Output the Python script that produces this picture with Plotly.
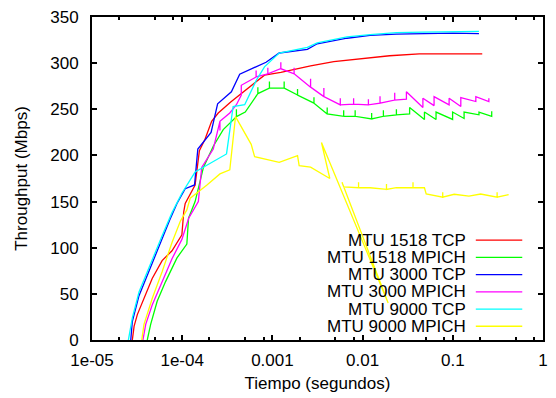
import plotly.graph_objects as go

# ---- data (time in seconds, throughput in Mbps) ----
t_1518_tcp = [2.8e-5, 2.93e-5, 3.18e-5, 3.77e-5, 4.65e-5, 5.99e-5, 7.71e-5, 9.92e-5, 1.04e-4, 1.08e-4,
              1.39e-4, 1.55e-4, 1.79e-4, 2.12e-4, 2.51e-4, 3.45e-4, 5.36e-4, 8.17e-4, 1.24e-3, 1.9e-3,
              2.65e-3, 4.79e-3, 9.32e-3, 1.99e-2, 4.25e-2, 9.06e-2, 0.212]
v_1518_tcp = [0, 15, 27.5, 45, 66.6, 86, 96.7, 114, 139, 148,
              168, 205, 217.5, 237, 246, 258, 272.5, 287, 290, 294,
              297, 301.7, 305, 308, 310, 310, 310]

t_1518_mpich = [4.1e-5, 4.47e-5, 5.28e-5, 6.52e-5, 8.75e-5, 1.126e-4, 1.176e-4, 1.39e-4, 1.72e-4, 2.21e-4,
                2.85e-4, 3.99e-4, 3.99e-4, 3.99e-4, 5.0e-4, 6.9e-4, 6.9e-4, 6.9e-4, 9.27e-4, 9.27e-4,
                9.27e-4, 1.35e-3, 1.35e-3, 1.35e-3, 1.9e-3, 1.9e-3, 1.9e-3, 2.89e-3, 2.89e-3, 2.89e-3,
                4.05e-3, 4.05e-3, 4.05e-3, 6.17e-3, 6.17e-3, 6.17e-3, 8.27e-3, 8.27e-3, 8.27e-3, 1.26e-2,
                1.26e-2, 1.26e-2, 1.7e-2, 1.7e-2, 1.7e-2, 2.37e-2, 2.37e-2, 2.37e-2, 3.32e-2, 3.32e-2,
                4.85e-2, 4.85e-2, 6.52e-2, 6.52e-2, 9.95e-2, 9.95e-2, 0.1334, 0.1334, 0.195, 0.195,
                0.27, 0.27]
v_1518_mpich = [0, 17, 42, 63, 89, 104, 132, 150, 187, 210,
                228, 242, 250, 242, 247, 267, 274, 267, 273, 280,
                273, 273, 280, 273, 265.5, 272, 265.5, 256.6, 263, 256.6,
                245, 252, 245, 242.4, 249, 242.4, 242.4, 249, 242.4, 239.5,
                246, 239.5, 242.4, 249, 242.4, 244, 250, 244, 245, 252,
                239, 247, 239, 247, 239, 247, 240, 247, 244, 247,
                242.4, 248]

t_3000_tcp = [2.69e-5, 2.8e-5, 3.32e-5, 4.65e-5, 5.99e-5, 7.27e-5, 8.75e-5, 1.08e-4, 1.37e-4, 1.49e-4,
              2.09e-4, 2.47e-4, 3.51e-4, 4.34e-4, 8.51e-4, 1.19e-3, 2.44e-3, 3.14e-3, 6.71e-3, 1.21e-2,
              2.37e-2, 4.66e-2, 0.1, 0.195]
v_3000_tcp = [0, 20, 48, 84, 110, 130, 148, 164, 168, 207,
              225, 256, 269, 288, 301, 311, 315, 321, 327, 330,
              331.5, 332, 332.5, 332]

t_3000_mpich = [3.67e-5, 3.94e-5, 4.65e-5, 5.99e-5, 7.71e-5, 9.92e-5, 1.18e-4, 1.51e-4, 1.645e-4, 2.21e-4,
                2.62e-4, 2.62e-4, 2.62e-4, 3.37e-4, 3.99e-4, 4.52e-4, 4.52e-4, 6.6e-4, 6.6e-4, 6.6e-4,
                8.9e-4, 8.9e-4, 8.9e-4, 1.24e-3, 1.24e-3, 1.24e-3, 1.74e-3, 1.74e-3, 1.74e-3, 2.65e-3,
                2.65e-3, 2.65e-3, 3.72e-3, 3.72e-3, 3.72e-3, 5.66e-3, 5.66e-3, 5.66e-3, 7.95e-3, 7.95e-3,
                7.95e-3, 1.16e-2, 1.16e-2, 1.16e-2, 1.56e-2, 1.56e-2, 1.56e-2, 2.27e-2, 2.27e-2, 2.27e-2,
                3.06e-2, 3.06e-2, 4.66e-2, 4.66e-2, 6.2e-2, 6.2e-2, 9.1e-2, 9.1e-2, 0.1227, 0.1227,
                0.18, 0.18, 0.251, 0.251]
v_3000_mpich = [0, 17, 38, 63, 88, 109, 132, 150, 187, 207,
                237, 227, 237, 246, 255, 265.5, 276, 285, 292, 285,
                288.5, 295, 288.5, 294, 301, 294, 288.5, 295, 288.5, 274,
                283, 274, 263.7, 273, 263.7, 254.8, 262, 254.8, 255.5, 262,
                255.5, 254.8, 261, 254.8, 256.6, 264, 256.6, 260, 268, 260,
                261, 269, 252, 262, 254, 263.7, 254.8, 262, 253, 262.6,
                258.4, 263.7, 258.4, 262]

t_9000_tcp = [2.53e-5, 2.8e-5, 3.32e-5, 4.65e-5, 5.99e-5, 7.71e-5, 9.92e-5, 1.39e-4, 3.1e-4, 3.67e-4,
              4.93e-4, 6.6e-4, 8.17e-4, 1.19e-3, 2.44e-3, 3.14e-3, 6.71e-3, 1.21e-2, 2.37e-2, 4.66e-2,
              0.1, 0.195]
v_9000_tcp = [0, 24, 52, 88, 113, 138, 159, 182, 201.6, 253,
              255, 281, 296, 311, 317, 322, 328.4, 331, 333, 333.7,
              334, 334.5]

t_9000_mpich = [3.56e-5, 3.77e-5, 4.65e-5, 5.99e-5, 7.71e-5, 9.53e-5, 1.126e-4, 1.227e-4, 1.867e-4, 2.62e-4,
                3.37e-4, 3.9e-4, 5.82e-4, 6.35e-4, 1.19e-3, 1.9e-3, 1.98e-3, 2.65e-3, 4.33e-3, 3.5e-3,
                1.92e-2, 5.91e-3, 6.17e-3, 9.02e-3, 9.02e-3, 9.02e-3, 1.21e-2, 1.84e-2, 1.84e-2, 1.84e-2,
                2.37e-2, 3.62e-2, 3.62e-2, 3.62e-2, 4.85e-2, 5.07e-2, 7.73e-2, 7.73e-2, 7.73e-2, 0.1036,
                0.151, 0.2035, 0.31, 0.31, 0.31, 0.416]
v_9000_mpich = [0, 17, 45, 74, 105.7, 128.7, 141, 153.6, 167.8, 180,
                184.5, 242, 212, 198.7, 192.6, 199.8, 189, 187.3, 175, 214,
                40, 171, 166, 165, 171, 165, 165, 163.2, 169, 163.2,
                165, 165, 171, 165, 165, 158.2, 154.7, 160, 154.7, 157.9,
                156, 158.2, 154.7, 160, 154.7, 157.5]

series_names = ["MTU 1518 TCP", "MTU 1518 MPICH", "MTU 3000 TCP",
                "MTU 3000 MPICH", "MTU 9000 TCP", "MTU 9000 MPICH"]
series_t = [t_1518_tcp, t_1518_mpich, t_3000_tcp, t_3000_mpich, t_9000_tcp, t_9000_mpich]
series_v = [v_1518_tcp, v_1518_mpich, v_3000_tcp, v_3000_mpich, v_9000_tcp, v_9000_mpich]
series_colors = ["#ff0000", "#00ff00", "#0000ff", "#ff00ff", "#00ffff", "#ffff00"]

x_tickvals = [1e-5, 1e-4, 1e-3, 1e-2, 1e-1, 1]
x_ticktext = ["1e-05", "1e-04", "0.001", "0.01", "0.1", "1"]
x_minor = [m * d for d in [1e-5, 1e-4, 1e-3, 1e-2, 1e-1] for m in (2, 5, 8)]
y_tickvals = [0, 50, 100, 150, 200, 250, 300, 350]

FONT = "Liberation Sans, Arial, sans-serif"
fig = go.Figure()
for name, t, v, c in zip(series_names, series_t, series_v, series_colors):
    fig.add_trace(go.Scatter(x=t, y=v, mode="lines", name=name,
                             line=dict(color=c, width=1.3), showlegend=False))

# gnuplot-style key: text right-aligned, line sample on the right
key_top = 0.309
key_step = 0.0533
for i, (name, c) in enumerate(zip(series_names, series_colors)):
    yk = key_top - i * key_step
    fig.add_annotation(x=0.834, y=yk, xref="paper", yref="paper", text=name,
                       showarrow=False, xanchor="right", yanchor="middle", height=17,
                       font=dict(family=FONT, size=17, color="black"))
    fig.add_shape(type="line", xref="paper", yref="paper", x0=0.851, x1=0.954, y0=yk, y1=yk,
                  line=dict(color=c, width=1.3))

axis_common = dict(showline=True, linecolor="black", linewidth=2, mirror="allticks",
                   ticks="inside", ticklen=5, tickwidth=1.5, tickcolor="black",
                   showgrid=False, zeroline=False,
                   tickfont=dict(family=FONT, size=17, color="black"))

fig.update_xaxes(type="log", range=[-5, 0], tickvals=x_tickvals, ticktext=x_ticktext,
                 minor=dict(tickvals=x_minor, ticks="inside", ticklen=3, tickwidth=1.5,
                            tickcolor="black", showgrid=False),
                 ticklabelstandoff=4,
                 title=dict(text="Tiempo (segundos)", font=dict(family=FONT, size=17, color="black"),
                            standoff=8),
                 **axis_common)
fig.update_yaxes(range=[0, 350], tickvals=y_tickvals, ticklabelstandoff=8,
                 title=dict(text="Throughput (Mbps)", font=dict(family=FONT, size=17, color="black"),
                            standoff=18),
                 **axis_common)

fig.update_layout(width=556, height=398, margin=dict(l=92, r=8, t=14, b=55),
                  paper_bgcolor="white", plot_bgcolor="white",
                  font=dict(family=FONT, size=17, color="black"))

fig.write_html("out.html")
